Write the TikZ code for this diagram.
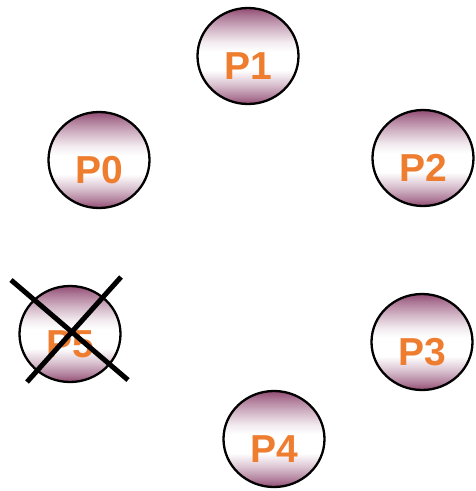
\documentclass[tikz,border=0pt]{standalone}
\usepackage{fontspec}
\setmainfont{Liberation Sans}
\usetikzlibrary{shapes.geometric}
\definecolor{mauve}{RGB}{145,75,115}
\definecolor{labelorange}{RGB}{238,125,48}
% TikZ fits the middle 50bp of a shading to the path, so the ramp
% runs from 25bp (bottom rim) to 75bp (top rim): dark rims, white band
\pgfdeclareverticalshading{procshade}{100bp}{%
  color(0bp)=(mauve);
  color(25bp)=(mauve);
  color(29bp)=(mauve!70);
  color(35bp)=(mauve!35);
  color(42.5bp)=(white);
  color(52.5bp)=(white);
  color(57.5bp)=(mauve!12);
  color(65bp)=(mauve!45);
  color(71bp)=(mauve!75);
  color(75bp)=(mauve);
  color(100bp)=(mauve)}
\tikzset{
  proc/.style={ellipse, draw=black, line width=2.3pt, shading=procshade,
    minimum width=101pt, minimum height=96pt, inner sep=0pt},
  plabel/.style={text=labelorange, font=\fontsize{39}{39}\selectfont\bfseries},
  cross/.style={line width=5pt, draw=black}
}
\begin{document}
\begin{tikzpicture}[x=1pt,y=-1pt]
\useasboundingbox (0,0) rectangle (475,491);
\foreach \n/\x/\y in {P1/248/56, P0/99/160, P2/423/158, P5/70/334, P3/422/342, P4/274/439}{
  \node[proc] (\n) at (\x,\y) {};
  \node[plabel] (\n-t) at (\x,\y+10) {\n};
}
% P5 is crossed out
\coordinate (c1a) at (11,280);
\coordinate (c1b) at (128,380);
\coordinate (c2a) at (121,277);
\coordinate (c2b) at (27,382);
\draw[cross] (c1a) -- (c1b);
\draw[cross] (c2a) -- (c2b);
\end{tikzpicture}
\end{document}
